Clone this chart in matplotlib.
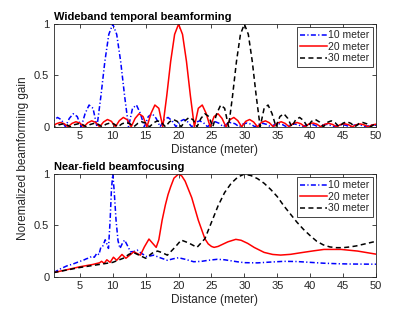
import matplotlib
matplotlib.use("Agg")
import matplotlib.pyplot as plt
import numpy as np

plt.rcParams['font.family'] = ['Liberation Sans', 'DejaVu Sans']

# ---- top panel: wideband temporal beamforming ----
# sample positions every 0.6 m (a quarter of one lobe), gains
d_top_10 = np.round(np.arange(0.4, 50.85, 0.6), 1)
d_top_20 = np.round(np.arange(0.8, 50.65, 0.6), 1)
d_top_30 = np.round(np.arange(0.6, 50.45, 0.6), 1)

g_top_10 = [0, .060, .091, .069, 0, .082, .127, .100, 0, .129, .212, .180, 0, .300, .637, .900,
            1.000,
            .900, .637, .300, 0, .180, .212, .129, 0, .100, .127, .082, 0, .069, .091, .060, 0,
            .053, .071, .047, 0, .043, .058, .039, 0, .036, .049, .033, 0, .031, .042, .029, 0,
            .027, .037, .026, 0, .024, .034, .023, 0, .022, .030, .021, 0, .020, .028, .019, 0,
            .018, .025, .018, 0, .017, .024, .016, 0, .016, .022, .015, 0, .015, .021, .014, 0,
            .014, .019, .013, 0]

g_top_20 = [0, .029, .042, .031, 0, .033, .049, .036, 0, .039, .058, .043, 0, .047, .071, .053,
            0, .060, .091, .069, 0, .082, .127, .100, 0, .129, .212, .180, 0, .300, .637, .900,
            1.000,
            .900, .637, .300, 0, .180, .212, .129, 0, .100, .127, .082, 0, .069, .091, .060, 0,
            .053, .071, .047, 0, .043, .058, .039, 0, .036, .049, .033, 0, .031, .042, .029, 0,
            .027, .037, .026, 0, .024, .034, .023, 0, .022, .030, .021, 0, .020, .028, .019, 0,
            .018, .025, .018]

g_top_30 = [.018, 0, .019, .028, .020, 0, .021, .030, .022, 0, .023, .034, .024,
            0, .026, .037, .027, 0, .029, .042, .031, 0, .033, .049, .036, 0, .039, .058, .043,
            0, .047, .071, .053, 0, .060, .091, .069, 0, .082, .127, .100, 0, .129, .212, .180,
            0, .300, .637, .900,
            1.000,
            .900, .637, .300, 0, .180, .212, .129, 0, .100, .127, .082, 0, .069, .091, .060, 0,
            .053, .071, .047, 0, .043, .058, .039, 0, .036, .049, .033, 0, .031, .042, .029, 0,
            .027, .037]

# ---- bottom panel: near-field beamfocusing ----
d_bot_10 = [1.0, 2.0, 3.0, 4.0, 5.0, 5.5, 6.0, 6.5, 6.8, 7.2, 7.6, 7.9, 8.2, 8.5, 8.85,
            9.1, 9.35, 9.6, 9.8, 10.0, 10.2, 10.5, 10.8, 11.1, 11.5, 11.8, 12.1, 12.7,
            13.2, 13.7, 14.3, 15.2, 16.2, 17.2, 18.3, 19.2, 20.0, 21.0, 22.3, 23.5,
            24.5, 25.9, 27.0, 28.0, 29.0, 30.0, 32.0, 34.0, 36.0, 38.0, 40.0,
            42.0, 44.0, 46.0, 48.0, 50.0]
g_bot_10 = [0.040, 0.075, 0.105, 0.125, 0.150, 0.160, 0.175, 0.185, 0.200, 0.190, 0.230,
            0.215, 0.290, 0.300, 0.360, 0.320, 0.276, 0.550, 0.850, 1.000, 0.850, 0.550,
            0.350, 0.276, 0.330, 0.357, 0.320, 0.243, 0.245, 0.260, 0.230, 0.195, 0.210,
            0.185, 0.160, 0.175, 0.185, 0.170, 0.146, 0.150, 0.160, 0.170, 0.165,
            0.155, 0.145, 0.137, 0.135, 0.143, 0.150, 0.148, 0.140, 0.132, 0.127, 0.124,
            0.123, 0.122]

d_bot_20 = [1.0, 3.0, 5.0, 7.0, 8.0, 8.3, 8.7, 9.1, 9.6, 10.1, 10.6, 11.4, 12.0, 13.2,
            14.2, 14.8, 15.5, 16.0, 16.6, 17.0, 17.5, 18.0, 18.4, 18.8, 19.3, 20.0, 20.5,
            21.0, 21.5, 22.0, 22.5, 23.0, 23.5, 24.0, 24.5, 25.0, 25.4, 26.0, 26.5, 27.5,
            28.7, 29.5, 30.5, 31.5, 33.0, 34.3, 35.5, 37.0, 38.6, 40.5, 42.1, 44.7, 47.2,
            50.0]
g_bot_20 = [0.040, 0.068, 0.097, 0.120, 0.136, 0.150, 0.130, 0.165, 0.140, 0.190, 0.160,
            0.217, 0.180, 0.243, 0.210, 0.290, 0.367, 0.330, 0.286, 0.360, 0.550, 0.700,
            0.800, 0.876, 0.960, 1.000, 0.980, 0.930, 0.850, 0.770, 0.660, 0.550, 0.460,
            0.370, 0.320, 0.295, 0.286, 0.295, 0.310, 0.340, 0.364, 0.355, 0.325, 0.285,
            0.237, 0.217, 0.211, 0.218, 0.234, 0.252, 0.266, 0.266, 0.250, 0.220]

d_bot_30 = [1.0, 3.0, 5.0, 8.0, 10.0, 11.6, 12.5, 13.2, 14.0, 15.0, 16.0, 16.8, 17.5, 18.3,
            19.5, 20.4, 21.5, 22.8, 24.0, 25.0, 26.0, 27.0, 28.0, 29.0, 30.0, 31.0, 32.0,
            33.0, 34.0, 35.0, 36.0, 37.0, 38.0, 39.0, 40.0, 41.0, 42.0, 43.0, 44.0, 45.0,
            46.0, 47.0, 48.0, 49.0, 50.0]
g_bot_30 = [0.040, 0.065, 0.090, 0.120, 0.140, 0.180, 0.220, 0.234, 0.210, 0.180, 0.230,
            0.250, 0.235, 0.210, 0.290, 0.357, 0.330, 0.286, 0.370, 0.530, 0.690, 0.820,
            0.910, 0.970, 1.000, 0.985, 0.955, 0.910, 0.850, 0.780, 0.690, 0.610, 0.530,
            0.460, 0.400, 0.345, 0.310, 0.290, 0.283, 0.283, 0.290, 0.300, 0.315, 0.330,
            0.345]

legend_labels = ['10 meter', '20 meter', '30 meter']
x_ticks = [5, 10, 15, 20, 25, 30, 35, 40, 45, 50]
y_ticks = [0, 0.5, 1]
y_ticklabels = ['0', '0.5', '1']

axis_col = '#262626'
lw = 1.1
dash_dot = (3.3, 1.5, 0.8, 1.5)
dashed = (3.3, 2.2)

fig = plt.figure(figsize=(4.15, 3.17), dpi=100)
ax1 = fig.add_axes([0.129, 0.600, 0.777, 0.324])
ax2 = fig.add_axes([0.129, 0.127, 0.777, 0.324])

ax1.plot(d_top_10, g_top_10, color='b', lw=lw, dashes=dash_dot, label=legend_labels[0])
ax1.plot(d_top_20, g_top_20, color='r', lw=lw, ls='-', label=legend_labels[1])
ax1.plot(d_top_30, g_top_30, color='k', lw=lw, dashes=dashed, label=legend_labels[2])

ax2.plot(d_bot_10, g_bot_10, color='b', lw=lw, dashes=dash_dot, label=legend_labels[0])
ax2.plot(d_bot_20, g_bot_20, color='r', lw=lw, ls='-', label=legend_labels[1])
ax2.plot(d_bot_30, g_bot_30, color='k', lw=lw, dashes=dashed, label=legend_labels[2])

titles = ['Wideband temporal beamforming', 'Near-field beamfocusing']
for ax, t in zip([ax1, ax2], titles):
    ax.set_xlim(1, 50)
    ax.set_ylim(0, 1)
    ax.set_xticks(x_ticks)
    ax.set_yticks(y_ticks)
    ax.set_yticklabels(y_ticklabels)
    ax.tick_params(direction='in', top=True, right=True, length=3, width=0.6,
                   labelsize=8, colors=axis_col, pad=3)
    for s in ax.spines.values():
        s.set_color(axis_col)
        s.set_linewidth(0.6)
    ax.set_xlabel('Distance (meter)', fontsize=8.5, color=axis_col, labelpad=2)
    ax.set_title(t, loc='left', fontsize=8, fontweight='bold', pad=3)
    leg = ax.legend(loc='upper right', fontsize=7.5, handlelength=2.6, handletextpad=0.1,
                    borderpad=0.3, labelspacing=0.15, fancybox=False, framealpha=1,
                    borderaxespad=0.3, edgecolor=axis_col)
    leg.get_frame().set_linewidth(0.6)
    for txt in leg.get_texts():
        txt.set_color(axis_col)

fig.text(0.055, 0.5, 'Noremalized beamforming gain', rotation=90, va='center', ha='center',
         fontsize=8.5, color=axis_col)

fig.savefig('out.png', dpi=100)
